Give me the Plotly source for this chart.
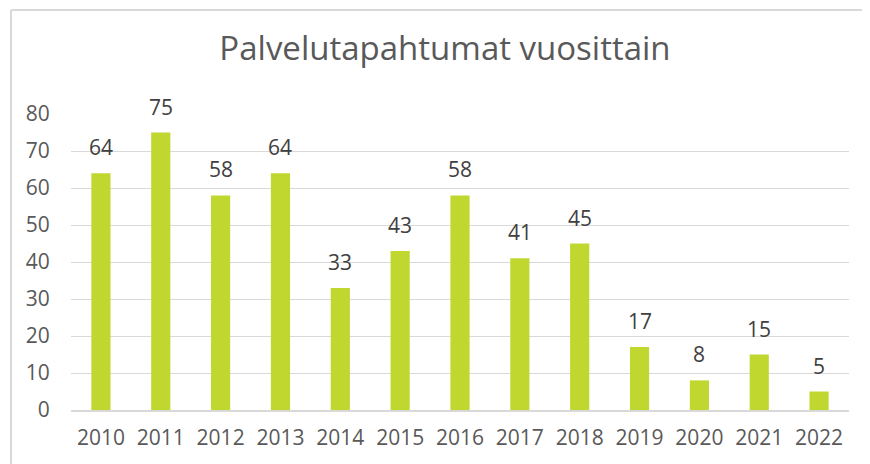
import plotly.graph_objects as go

years = ["2010", "2011", "2012", "2013", "2014", "2015", "2016", "2017", "2018", "2019", "2020", "2021", "2022"]
values = [64, 75, 58, 64, 33, 43, 58, 41, 45, 17, 8, 15, 5]
y_ticks = [0, 10, 20, 30, 40, 50, 60, 70, 80]

FONT = "Open Sans"
fig = go.Figure(go.Bar(
    x=years, y=values,
    marker=dict(color="#C0D72F", line=dict(width=0)),
    cliponaxis=False,
))

# category axis: annotation x given as category index
for i, v in enumerate(values):
    fig.add_annotation(x=i, y=v, text=str(v), showarrow=False,
                       xanchor="center", yanchor="middle", yshift=26,
                       font=dict(size=21, color="#404040", family=FONT))

OFF = 8  # page body margin
W, H = 870, 464
L, R, T, B = 71 - OFF, 29, 114 - OFF, 62
pw, ph = W - L - R, H - T - B

fig.update_layout(
    width=W, height=H,
    margin=dict(l=L, r=R, t=T, b=B),
    paper_bgcolor="white", plot_bgcolor="white",
    bargap=0.68,
    showlegend=False,
    title=dict(text="Palvelutapahtumat vuosittain", x=(445 - OFF) / W, xanchor="center",
               y=1 - (48 - OFF) / H, yanchor="middle",
               font=dict(size=33, color="#595959", family=FONT)),
    font=dict(family=FONT, color="#595959"),
    xaxis=dict(type="category", categoryorder="array", categoryarray=years,
               range=[-0.5, len(years) - 0.5],
               tickfont=dict(size=21, color="#595959"), showgrid=False,
               showline=True, linecolor="#D9D9D9", linewidth=2,
               ticks="outside", ticklen=8, tickcolor="rgba(0,0,0,0)"),
    yaxis=dict(range=[0, 80], tickvals=y_ticks, tickfont=dict(size=21, color="#595959"),
               showgrid=True, gridcolor="#D9D9D9", gridwidth=1, zeroline=False,
               ticks="outside", ticklen=16, tickcolor="rgba(0,0,0,0)", showline=False),
    shapes=[
        dict(type="line", xref="paper", yref="paper",
             x0=(11 - OFF - L) / pw, x1=(11 - OFF - L) / pw, y0=(H - B - (10 - OFF)) / ph, y1=-0.5,
             line=dict(color="#D9D9D9", width=2)),
        dict(type="line", xref="paper", yref="paper",
             x0=(11 - OFF - L) / pw, x1=1.2, y0=(H - B - (10 - OFF)) / ph, y1=(H - B - (10 - OFF)) / ph,
             line=dict(color="#D9D9D9", width=2)),
    ],
)
fig.write_html("out.html")
